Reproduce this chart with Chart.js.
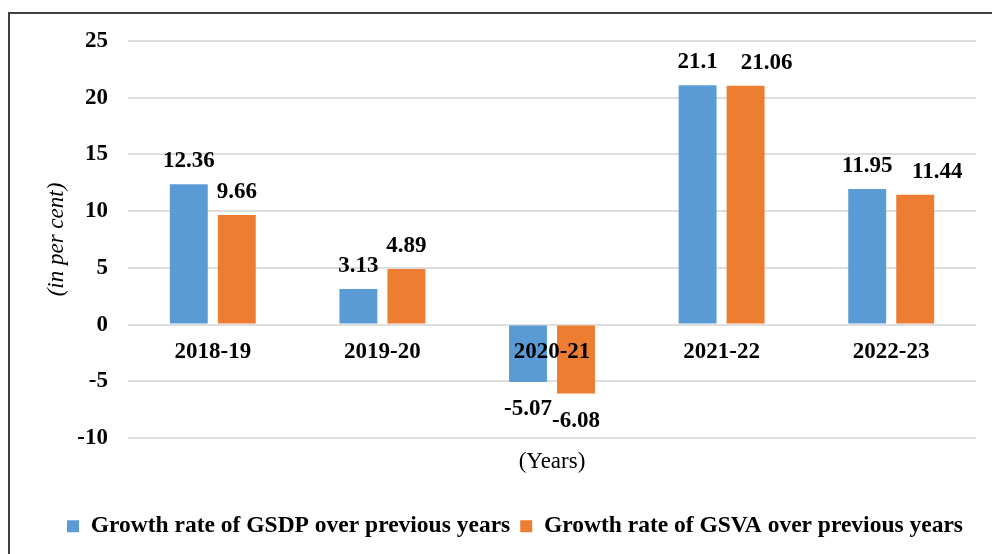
<!DOCTYPE html>
<html>
<head>
<meta charset="utf-8">
<script src="https://cdn.jsdelivr.net/npm/chart.js@4"></script>
<style>
  html, body { margin: 0; padding: 0; background: #fff; overflow: hidden; }
  #wrap { position: relative; width: 992px; height: 554px; overflow: hidden; }
  #frame { position: absolute; left: 8px; top: 12px; width: 1000px; height: 600px;
           border-left: 2px solid #404040; border-top: 2px solid #404040; }
  #chart { position: absolute; left: 0; top: 0; }
</style>
</head>
<body>
<div id="wrap">
  <div id="frame"></div>
  <canvas id="chart" width="992" height="554"></canvas>
</div>
<script>
const years = ["2018-19", "2019-20", "2020-21", "2021-22", "2022-23"];
const gsdpGrowth = [12.36, 3.13, -5.07, 21.1, 11.95];
const gsvaGrowth = [9.66, 4.89, -6.08, 21.06, 11.44];
const seriesNames = ["Growth rate of GSDP over previous years", "Growth rate of GSVA over previous years"];
const yMin = -10, yMax = 25, yStep = 5;

Chart.defaults.font.family = "'Liberation Serif', 'Times New Roman', serif";
Chart.defaults.color = "#000";

const padLeft = 54;

// value labels above / below each bar (a few nudged sideways like the original)
const valueLabels = {
  id: "valueLabels",
  afterDatasetsDraw(chart, args, opts) {
    const ctx = chart.ctx;
    const shift = opts.shiftX || {};
    ctx.save();
    ctx.font = "bold 23px 'Liberation Serif'";
    ctx.fillStyle = "#000";
    ctx.textAlign = "center";
    ctx.textBaseline = "alphabetic";
    chart.data.datasets.forEach((ds, i) => {
      chart.getDatasetMeta(i).data.forEach((bar, j) => {
        const v = ds.data[j];
        const y = v >= 0 ? bar.y - 17 : bar.y + 33;
        const dx = shift[i + ":" + j] || 0;
        ctx.fillText(String(v), bar.x + dx, y);
      });
    });
    ctx.restore();
  }
};

new Chart(document.getElementById("chart"), {
  type: "bar",
  data: {
    labels: years,
    datasets: [
      { label: seriesNames[0], data: gsdpGrowth, backgroundColor: "#5B9BD5" },
      { label: seriesNames[1], data: gsvaGrowth, backgroundColor: "#ED7D31" }
    ]
  },
  options: {
    responsive: false,
    animation: false,
    datasets: { bar: { categoryPercentage: 0.566, barPercentage: 0.79 } },
    layout: { padding: { left: padLeft, right: 16, top: 41, bottom: 6 } },
    plugins: {
      tooltip: { enabled: false },
      valueLabels: { shiftX: { "1:3": 21, "1:4": 22 } },
      legend: {
        position: "bottom",
        labels: {
          boxWidth: 12,
          boxHeight: 12,
          padding: 10,
          color: "#000",
          font: { size: 23.5, weight: "bold" }
        }
      }
    },
    scales: {
      x: {
        position: { y: 0 },
        grid: { display: false, drawTicks: false },
        border: { display: false },
        ticks: { z: 1, padding: 14, color: "#000", font: { size: 23, weight: "bold" } }
      },
      years: {
        type: "category",
        position: "bottom",
        grid: { display: false, drawTicks: false },
        border: { display: false },
        ticks: { display: false },
        title: {
          display: true,
          text: "(Years)",
          color: "#000",
          font: { size: 23 },
          padding: { top: 0, bottom: 28.7 }
        },
        afterFit(s) { s.height = 66.5; }
      },
      y: {
        min: yMin,
        max: yMax,
        ticks: { stepSize: yStep, padding: 20, color: "#000", font: { size: 23, weight: "bold" } },
        grid: { color: "#dedede", lineWidth: 2, drawTicks: false },
        border: { display: false },
        title: {
          display: true,
          text: "(in per cent)",
          color: "#000",
          font: { size: 23, style: "italic", lineHeight: 1 },
          padding: { top: -8.5, bottom: 0 }
        },
        afterFit(s) { s.width = 128 - padLeft; }
      }
    }
  },
  plugins: [valueLabels]
});
</script>
</body>
</html>
